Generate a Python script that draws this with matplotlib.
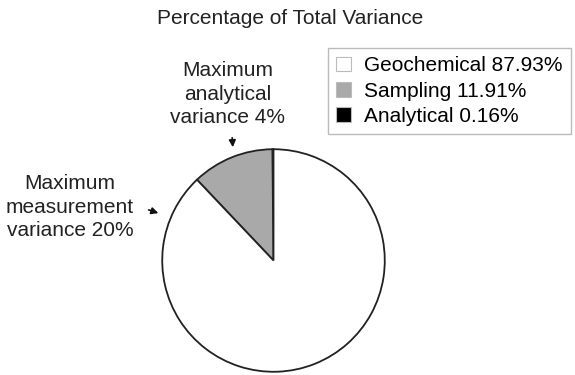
import matplotlib.pyplot as plt
from matplotlib.patches import FancyArrowPatch

plt.rcParams['font.family'] = ['Liberation Sans', 'DejaVu Sans']

# pie data (counterclockwise from 12 o'clock)
labels = ['Analytical', 'Sampling', 'Geochemical']
shares = [0.16, 11.91, 87.93]
colors = ['#000000', '#a9a9a9', '#ffffff']
legend_order = [2, 1, 0]

W, H = 575, 375
FS = 15
fig = plt.figure(figsize=(W / 100, H / 100), dpi=100)

# pie axes placed by pixel box
x0, x1, y0, y1 = 159, 388, 147, 374
ax = fig.add_axes([x0 / W, 1 - y1 / H, (x1 - x0) / W, (y1 - y0) / H])
wedges, _ = ax.pie(shares, colors=colors, startangle=90, counterclock=True,
                   wedgeprops=dict(edgecolor='#222222', linewidth=1.3))
ax.set_xlim(-1.02, 1.02)
ax.set_ylim(-1.02, 1.02)
ax.set_aspect('equal')
ax.axis('off')

fig.text(290 / W, 1 - 19 / H, 'Percentage of Total Variance',
         ha='center', va='center', fontsize=FS, color='#222222')

handles = [wedges[i] for i in legend_order]
leg_labels = ['%s %.2f%%' % (labels[i], shares[i]) for i in legend_order]
leg = fig.legend(handles, leg_labels, loc='upper left',
                 bbox_to_anchor=(328 / W, 1 - 48 / H), fontsize=FS,
                 frameon=True, fancybox=False, edgecolor='#aaaaaa',
                 handlelength=0.72, handleheight=0.72, handletextpad=0.6,
                 labelspacing=0.3, borderpad=0.4, borderaxespad=0)
leg.get_frame().set_linewidth(1.0)
for h in leg.legend_handles:
    h.set_edgecolor('#bbbbbb')
    h.set_linewidth(0.8)

fig.text(228 / W, 1 - 94 / H, 'Maximum\nanalytical\nvariance 4%',
         ha='center', va='center', fontsize=FS, linespacing=1.3,
         color='#222222')
fig.text(70 / W, 1 - 207 / H, 'Maximum\nmeasurement\nvariance 20%',
         ha='center', va='center', fontsize=FS, linespacing=1.3,
         color='#222222')

ap = dict(arrowstyle='-|>', color='#111111', lw=1.2, mutation_scale=10)
fig.add_artist(FancyArrowPatch((232 / W, 1 - 135 / H), (233 / W, 1 - 150 / H),
                               transform=fig.transFigure, **ap))
fig.add_artist(FancyArrowPatch((146 / W, 1 - 209 / H), (161 / W, 1 - 214 / H),
                               transform=fig.transFigure, **ap))

fig.savefig('out.png', dpi=100)
